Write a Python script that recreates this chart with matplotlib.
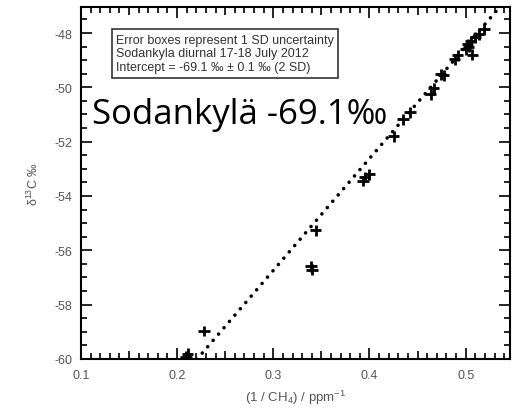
import numpy as np
import matplotlib
matplotlib.use("Agg")
import matplotlib.pyplot as plt
from matplotlib.ticker import MultipleLocator, FixedLocator, FixedFormatter

# Donnees (1/CH4 en ppm^-1, delta13C en permil)
inv_ch4 = [0.209, 0.211, 0.228, 0.339, 0.340, 0.344, 0.393, 0.395, 0.400,
           0.425, 0.435, 0.442, 0.4635, 0.4667, 0.474, 0.477, 0.4885,
           0.4917, 0.500, 0.502, 0.503, 0.505, 0.507, 0.510, 0.5135, 0.519]
d13c = [-59.92, -59.80, -58.97, -56.58, -56.72, -55.26, -53.45, -53.30, -53.20,
        -51.80, -51.18, -50.92, -50.26, -50.04, -49.52, -49.56, -48.97,
        -48.82, -48.60, -48.42, -48.50, -48.30, -48.80, -48.16, -48.05, -47.87]
xerr = 0.006
yerr = 0.2

# Droite de Keeling
intercept = -69.1
slope = 41.2

x_ticks = [0.1, 0.2, 0.3, 0.4, 0.5]
y_ticks = [-60, -58, -56, -54, -52, -50, -48]

info_lines = ["Error boxes represent 1 SD uncertainty",
              "Sodankyla diurnal 17-18 July 2012",
              "Intercept = -69.1 \u2030 \u00b1 0.1 \u2030 (2 SD)"]
big_label = "Sodankyl\u00e4 -69.1\u2030"

plt.rcParams['font.family'] = ['Liberation Sans', 'DejaVu Sans']
plt.rcParams['mathtext.default'] = 'regular'

fig = plt.figure(figsize=(5.12, 4.10), dpi=100)
ax = fig.add_axes([0.158, 0.122, 0.838, 0.858])

xl = np.array([0.1, 0.56])
ax.plot(xl, intercept + slope * xl, color='black', lw=2.6, ls=(0, (0.01, 2.3)),
        dash_capstyle='round', zorder=2)

ax.errorbar(inv_ch4, d13c, xerr=xerr, yerr=yerr, fmt='none', ecolor='black',
            elinewidth=2.0, capsize=0, zorder=3)

ax.set_xlim(0.1, 0.546)
ax.set_ylim(-60, -47.05)

ax.xaxis.set_major_locator(FixedLocator(x_ticks))
ax.xaxis.set_major_formatter(FixedFormatter([f"{v:.1f}" for v in x_ticks]))
ax.xaxis.set_minor_locator(MultipleLocator(0.01))
ax.yaxis.set_major_locator(FixedLocator(y_ticks))
ax.yaxis.set_major_formatter(FixedFormatter([str(v) for v in y_ticks]))
ax.yaxis.set_minor_locator(MultipleLocator(0.5))

ax.tick_params(which='both', direction='in', top=True, right=True,
               colors='black', labelcolor='#555555', labelsize=9, width=1.2)
ax.tick_params(which='major', length=8)
ax.tick_params(which='minor', length=4)
ax.tick_params(axis='x', pad=7)
ax.tick_params(axis='y', pad=6)

# graduations intermediaires a 0.05
fig.canvas.draw()
for loc, t in zip(ax.xaxis.get_minorticklocs(), ax.xaxis.get_minor_ticks()):
    if abs(loc * 20 - round(loc * 20)) < 1e-6:
        t.tick1line.set_markersize(6)
        t.tick2line.set_markersize(6)

for s in ax.spines.values():
    s.set_linewidth(1.5)

ax.set_xlabel("(1 / CH$_4$) / ppm$^{-1}$", fontsize=9.5, color='#555555', labelpad=5)
ax.set_ylabel("$\\delta^{13}$C \u2030", fontsize=9, color='#555555', labelpad=10)

ax.text(0.082, 0.925, "\n".join(info_lines), transform=ax.transAxes, fontsize=9,
        color='#333333', va='top', ha='left', linespacing=1.2,
        bbox=dict(boxstyle='square,pad=0.35', fc='white', ec='#333333', lw=1.2))

ax.text(0.027, 0.67, big_label, transform=ax.transAxes, fontsize=25,
        family=['Open Sans', 'DejaVu Sans'], color='black', va='baseline', ha='left')

fig.savefig("out.png", dpi=100)
